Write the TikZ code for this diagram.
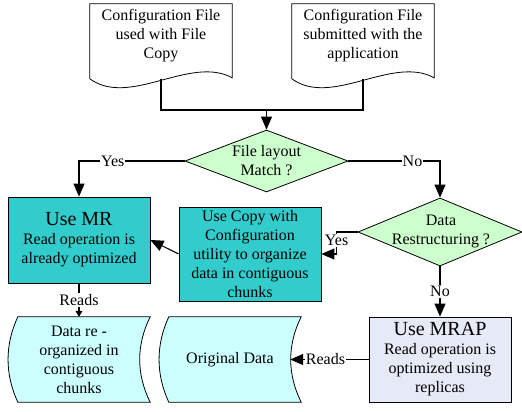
\documentclass[tikz,border=0pt]{standalone}
\usepackage{fontspec}
\setmainfont{Liberation Serif}
\usetikzlibrary{shapes.geometric,arrows.meta,backgrounds}
\definecolor{decgreen}{HTML}{CCFFCC}
\definecolor{proccyan}{HTML}{33CCCC}
\definecolor{mrapblue}{HTML}{E6EAF6}
\definecolor{datacyan}{HTML}{CCFFFF}
\newcommand\bigtitle[1]{{\fontsize{20}{22}\selectfont #1}}

\begin{document}
\begin{tikzpicture}[x=1pt, y=-1pt,
		every node/.style = {align=center, text=black, inner sep=0pt,
			font=\fontsize{16}{19}\selectfont},
		docbox/.style = {minimum width=142pt, minimum height=64pt},
		docshape/.style = {draw, fill=white, line width=0.8pt},
		decision/.style = {shape=diamond, draw, fill=decgreen, line width=0.8pt},
		process/.style = {shape=rectangle, draw, fill=proccyan, line width=0.8pt,
			minimum width=142pt},
		storebox/.style = {minimum width=142pt, minimum height=85pt},
		storage/.style = {draw, fill=datacyan, line width=0.8pt},
		flow/.style = {line width=1.1pt, -{Triangle[length=13pt,width=11pt]}},
		smallflow/.style = {line width=1.1pt, -{Triangle[length=6pt,width=7pt]}},
		tag/.style = {fill=white, inner sep=1pt}]
	
	\useasboundingbox (0,0) rectangle (522,412);
	
	% configuration files
	\node[docbox] (cfg1) at (161,36) {Configuration File\\used with File\\Copy};
	\node[docbox] (cfg2) at (363,36) {Configuration File\\submitted with the\\application};
	
	% decisions
	\node[decision, minimum width=163pt, minimum height=62pt] (match) at (266.5,161) {};
	\node (matchtext) at (266.5,160.5) {File layout\\Match ?};
	\node[decision, minimum width=164pt, minimum height=68pt] (restr) at (440,232) {};
	\node (restrtext) at (441,231) {Data\\Restructuring ?};
	
	% processes
	\node[process, minimum height=86pt] (usemr) at (79,240)
		{\bigtitle{Use MR}\\Read operation is\\already optimized};
	\node[process, minimum height=94pt] (copy) at (250,254)
		{Use Copy with\\Configuration\\utility to organize\\data in contiguous\\chunks};
	\node[process, fill=mrapblue, minimum height=85pt] (usemrap) at (440,359.5)
		{\bigtitle{Use MRAP}\\Read operation is\\optimized using\\replicas};
	
	% data
	\node[storebox] (reorg) at (79,359.5) {Data re -\\organized in\\contiguous\\chunks};
	\node[storebox] (orig) at (230,359.5) {Original Data};
	
	\begin{scope}[on background layer]
		\draw[docshape] (cfg1.north west) -- (cfg1.north east) -- ++(0,74)
			.. controls +(-42,-23) and +(40,29) .. ([yshift=-75pt]cfg1.north west) -- cycle;
		\draw[docshape] (cfg2.north west) -- (cfg2.north east) -- ++(0,74)
			.. controls +(-42,-23) and +(40,29) .. ([yshift=-75pt]cfg2.north west) -- cycle;
		\draw[storage] ([xshift=10pt]reorg.north west) -- (reorg.north east)
			.. controls +(-14,28) and +(-14,-28) .. (reorg.south east)
			-- ([xshift=10pt]reorg.south west)
			.. controls +(-13,-28) and +(-13,28) .. ([xshift=10pt]reorg.north west) -- cycle;
		\draw[storage] ([xshift=10pt]orig.north west) -- (orig.north east)
			.. controls +(-14,28) and +(-14,-28) .. (orig.south east)
			-- ([xshift=10pt]orig.south west)
			.. controls +(-13,-28) and +(-13,28) .. ([xshift=10pt]orig.north west) -- cycle;
	\end{scope}
	
	% connectors
	\coordinate (stem1) at ([yshift=-75pt]cfg1.north);
	\coordinate (stem2) at ([yshift=-75pt]cfg2.north);
	\coordinate (join) at (266.5,110);
	\draw[line width=1.1pt] (stem1) |- (join) -| (stem2);
	\draw[flow] (join) -- (match.north);
	\draw[flow] (match.west) -| node[tag, pos=0.34] {Yes} (usemr.north);
	\draw[flow] (match.east) -| node[tag, pos=0.35] {No} (restr.north);
	\draw[flow] (restr.west) -- ++(-21,0) |- node[tag, pos=0.2] {Yes} (copy.east);
	\draw[flow] (copy.west) -- (usemr.east);
	\draw[flow] (restr.south) -- node[tag] {No} (usemrap.north);
	\draw[smallflow] (usemr.south) -- node[tag] {Reads} (reorg.north);
	\draw[flow] (usemrap.west) -- node[tag, pos=0.55] {Reads} ([xshift=-11pt]orig.east);
\end{tikzpicture}
\end{document}
